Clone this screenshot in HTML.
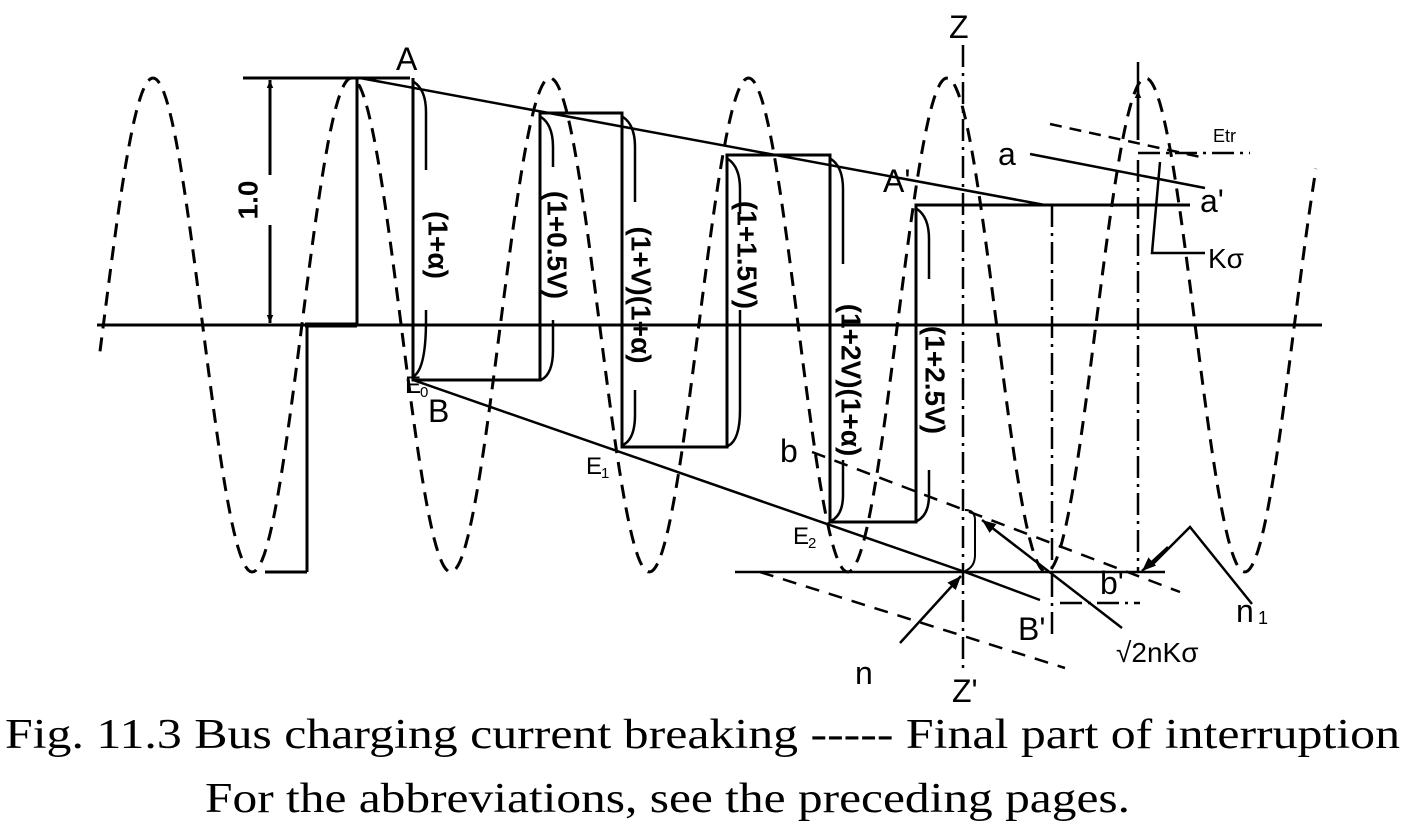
<!DOCTYPE html>
<html><head><meta charset="utf-8"><style>
html,body{margin:0;padding:0;background:#fff;width:1409px;height:839px;overflow:hidden}
svg{display:block}
text{font-family:"Liberation Sans",sans-serif;fill:#000}
.cap{font-family:"Liberation Serif",serif}
</style></head><body>
<svg id="s" width="1409" height="839" viewBox="0 0 1409 839" xmlns="http://www.w3.org/2000/svg">
<defs>
<marker id="ar" viewBox="0 0 10 10" refX="10" refY="5" markerWidth="8" markerHeight="8" orient="auto-start-reverse" markerUnits="userSpaceOnUse"><path d="M0,1 L10,5 L0,9 z" fill="#000"/></marker>
<marker id="ar2" viewBox="0 0 10 10" refX="10" refY="5" markerWidth="14" markerHeight="14" orient="auto-start-reverse" markerUnits="userSpaceOnUse"><path d="M0,1 L10,5 L0,9 z" fill="#000"/></marker>
</defs>
<path id="sine" fill="none" stroke="#000" stroke-width="3" stroke-dasharray="14,9"/>
<g stroke="#000" stroke-width="3" fill="none">
<line x1="97" y1="325" x2="1322" y2="325"/>
<line x1="243" y1="78" x2="410" y2="78"/>
<line x1="270" y1="175" x2="270" y2="80" marker-end="url(#ar)"/>
<line x1="270" y1="225" x2="270" y2="323" marker-end="url(#ar)"/>
<line x1="357" y1="78" x2="357" y2="325"/>
<line x1="305" y1="325" x2="357" y2="325" stroke-width="5"/>
<line x1="307" y1="325" x2="307" y2="572"/>
<line x1="265" y1="572" x2="307" y2="572"/>
<polyline points="413,78 413,380 540,380 540,113 622,113 622,447 727,447 727,155 830,155 830,522 916,522 916,205 1190,205"/>
<line x1="360" y1="78" x2="1045" y2="205" stroke-width="2.5"/>
<line x1="413" y1="380" x2="965" y2="572" stroke-width="2.5"/>
<line x1="965" y1="572" x2="1040" y2="600" stroke-width="2.5"/>
<path d="M414,82 q12,8 12,30 v58 M426,310 v10 q0,48 -12,56" stroke-width="2.5"/>
<path d="M541,117 q12,8 12,30 v20 M553,320 v30 q0,24 -12,30" stroke-width="2.5"/>
<path d="M623,117 q12,8 12,30 v55 M635,390 v25 q0,24 -12,30" stroke-width="2.5"/>
<path d="M728,159 q12,8 12,30 v25 M740,310 v100 q0,30 -12,36" stroke-width="2.5"/>
<path d="M831,159 q12,8 12,30 v75 M843,460 v35 q0,20 -12,26" stroke-width="2.5"/>
<path d="M917,209 q12,8 12,30 v40 M929,470 v25 q0,20 -12,26" stroke-width="2.5"/>
<path d="M965,510 q10,0 10,10 v35 q0,12 -10,16" stroke-width="2"/>
<line x1="963" y1="45" x2="963" y2="670" stroke-width="2.5" stroke-dasharray="22,6,3,6"/>
<line x1="735" y1="572" x2="1165" y2="572" stroke-width="2.5"/>
<line x1="1052" y1="205" x2="1052" y2="635" stroke-width="2.5" stroke-dasharray="22,6,3,6"/>
<line x1="1060" y1="603" x2="1140" y2="603" stroke-width="2.5" stroke-dasharray="22,6,3,6"/>
<line x1="1138" y1="62" x2="1138" y2="140" stroke-width="2.5"/>
<line x1="1138" y1="140" x2="1138" y2="90" marker-end="url(#ar)" stroke-width="2.5"/>
<line x1="1138" y1="160" x2="1138" y2="572" stroke-width="2.5" stroke-dasharray="22,6,3,6"/>
<line x1="1050" y1="124" x2="1205" y2="158" stroke-width="2.5" stroke-dasharray="12,8"/>
<line x1="1030" y1="154" x2="1205" y2="188" stroke-width="2.5"/>
<line x1="1138" y1="153" x2="1250" y2="153" stroke-width="2.5" stroke-dasharray="22,6,3,6"/>
<path d="M1160,162 L1152,253 L1205,253" stroke-width="2.5"/>
<line x1="812" y1="452" x2="1180" y2="592" stroke-width="2.5" stroke-dasharray="14,10"/>
<line x1="760" y1="572" x2="1065" y2="668" stroke-width="2.5" stroke-dasharray="14,10"/>
<line x1="900" y1="643" x2="961" y2="576" marker-end="url(#ar2)" stroke-width="2.5"/>
<line x1="1122" y1="628" x2="982" y2="520" marker-end="url(#ar2)" stroke-width="2.5"/>
<path d="M1252,604 L1190,527 L1152,565" stroke-width="2.5"/>
<line x1="1168" y1="547" x2="1142" y2="571" marker-end="url(#ar2)" stroke-width="2.5"/>
</g>
<g font-size="32">
<text x="396" y="70">A</text>
<text x="428" y="422">B</text>
<text x="949" y="38">Z</text>
<text x="952" y="702">Z'</text>
<text x="883" y="192">A'</text>
<text x="998" y="165">a</text>
<text x="1200" y="212">a'</text>
<text x="780" y="462">b</text>
<text x="1100" y="594">b'</text>
<text x="1018" y="640">B'</text>
<text x="855" y="684">n</text>
<text x="1236" y="622">n</text><text x="1258" y="624" font-size="18">1</text>
<text x="1208" y="268" font-size="28">Kσ</text>
<text x="1116" y="662" font-size="28">√2nKσ</text>
<text x="1213" y="142" font-size="18">Etr</text>
<text x="405" y="393" font-size="24">E</text><text x="420" y="397" font-size="15">0</text>
<text x="586" y="474" font-size="24">E</text><text x="601" y="478" font-size="15">1</text>
<text x="793" y="544" font-size="24">E</text><text x="808" y="548" font-size="15">2</text>
</g>
<g font-size="28" font-weight="bold">
<text transform="translate(250,200) rotate(-90)" text-anchor="middle" dominant-baseline="middle">1.0</text>
<text transform="translate(436,245) rotate(90)" text-anchor="middle" dominant-baseline="middle">(1+α)</text>
<text transform="translate(555,245) rotate(90)" text-anchor="middle" dominant-baseline="middle">(1+0.5V)</text>
<text transform="translate(639,295) rotate(90)" text-anchor="middle" dominant-baseline="middle">(1+V)(1+α)</text>
<text transform="translate(745,255) rotate(90)" text-anchor="middle" dominant-baseline="middle">(1+1.5V)</text>
<text transform="translate(849,380) rotate(90)" text-anchor="middle" dominant-baseline="middle">(1+2V)(1+α)</text>
<text transform="translate(933,380) rotate(90)" text-anchor="middle" dominant-baseline="middle">(1+2.5V)</text>
</g>
<text class="cap" x="5" y="748" font-size="42" textLength="1395" lengthAdjust="spacingAndGlyphs">Fig. 11.3 Bus charging current breaking ----- Final part of interruption</text>
<text class="cap" x="205" y="812" font-size="42" textLength="925" lengthAdjust="spacingAndGlyphs">For the abbreviations, see the preceding pages.</text>
</svg>
<script>
(function(){var d="";for(var x=100;x<=1316;x+=2){var y=325-247*Math.cos(2*Math.PI*(x-153)/198.5);d+=(x==100?"M":"L")+x+","+y.toFixed(1)+" ";}document.getElementById("sine").setAttribute("d",d);})();
</script>
</body></html>
